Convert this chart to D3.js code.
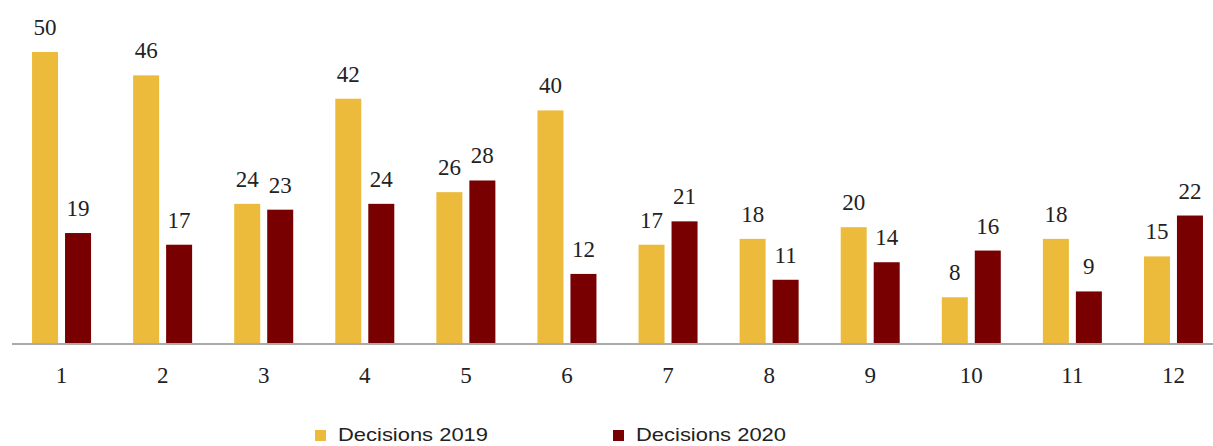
<!DOCTYPE html>
<html>
<head>
<meta charset="utf-8">
<script src="https://cdn.jsdelivr.net/npm/d3@7"></script>
<style>
  body { margin: 0; background: #fff; }
  svg { display: block; }
</style>
</head>
<body>
<div id="content"></div>
<script>
// chart data
var months = ['1', '2', '3', '4', '5', '6', '7', '8', '9', '10', '11', '12'];
var series = ['Decisions 2019', 'Decisions 2020'];
var decisions2019 = [50, 46, 24, 42, 26, 40, 17, 18, 20, 8, 18, 15];
var decisions2020 = [19, 17, 23, 24, 28, 12, 21, 11, 14, 16, 9, 22];

var app = {};
app.width = 1213;
app.height = 446;
app.colors = ['#ecbb3c', '#780000'];

app.rows = months.map((m, i) => ({ month: m, vals: [decisions2019[i], decisions2020[i]] }));

app.xScale = d3.scaleBand()
               .domain(months)
               .range([11, 1224]);

app.inner = d3.scaleBand()
              .domain(series)
              .range([-29.5, 29.5])
              .paddingInner(0.212);

app.yScale = d3.scaleLinear()
               .domain([0, d3.max(decisions2019.concat(decisions2020))])
               .range([344, 52]);

app.svg = d3.select('#content').append('svg')
            .attr('width', app.width)
            .attr('height', app.height);

var center = (m) => app.xScale(m) + app.xScale.bandwidth() / 2;

var groups = app.svg.selectAll('g.month')
                .data(app.rows)
                .enter().append('g')
                .attr('class', 'month')
                .attr('transform', (d) => `translate(${center(d.month)},0)`);

var cells = groups.selectAll('g.cell')
                  .data((d) => d.vals.map((v, k) => ({ s: series[k], k: k, v: v })))
                  .enter().append('g');

cells.append('rect')
     .attr('x', (d) => app.inner(d.s))
     .attr('width', app.inner.bandwidth())
     .attr('y', (d) => app.yScale(d.v))
     .attr('height', (d) => app.yScale(0) - app.yScale(d.v))
     .attr('fill', (d) => app.colors[d.k]);

cells.append('text')
     .attr('x', (d) => app.inner(d.s) + app.inner.bandwidth() / 2)
     .attr('y', (d) => app.yScale(d.v) - 17)
     .attr('text-anchor', 'middle')
     .attr('font-family', '"Liberation Serif", "DejaVu Serif", serif')
     .attr('font-size', 23)
     .attr('fill', '#222')
     .text((d) => d.v);

// x axis
app.xAxis = d3.axisBottom(app.xScale).tickSize(0);
app.xGuide = app.svg.append('g')
                .attr('transform', 'translate(0,344)')
                .call(app.xAxis);
app.xGuide.select('.domain').remove();
app.xGuide.selectAll('text')
    .attr('y', 39)
    .attr('dy', null)
    .attr('font-family', '"Liberation Serif", "DejaVu Serif", serif')
    .attr('font-size', 23)
    .attr('fill', '#222');

app.svg.append('line')
   .attr('x1', 12).attr('x2', app.width)
   .attr('y1', 344).attr('y2', 344)
   .attr('stroke', '#aaaaaa')
   .attr('stroke-width', 2);

// legend
var legendX = [315, 613];
var legend = app.svg.selectAll('g.legend')
                .data(series)
                .enter().append('g')
                .attr('transform', (d, i) => `translate(${legendX[i]},430)`);

legend.append('rect')
      .attr('width', 11).attr('height', 11)
      .attr('fill', (d, i) => app.colors[i]);

legend.append('text')
      .attr('x', 23).attr('y', 11)
      .attr('font-family', '"Liberation Sans", Arial, sans-serif')
      .attr('font-size', 19)
      .attr('textLength', 150)
      .attr('lengthAdjust', 'spacingAndGlyphs')
      .attr('fill', '#222')
      .text((d) => d);
</script>
</body>
</html>
